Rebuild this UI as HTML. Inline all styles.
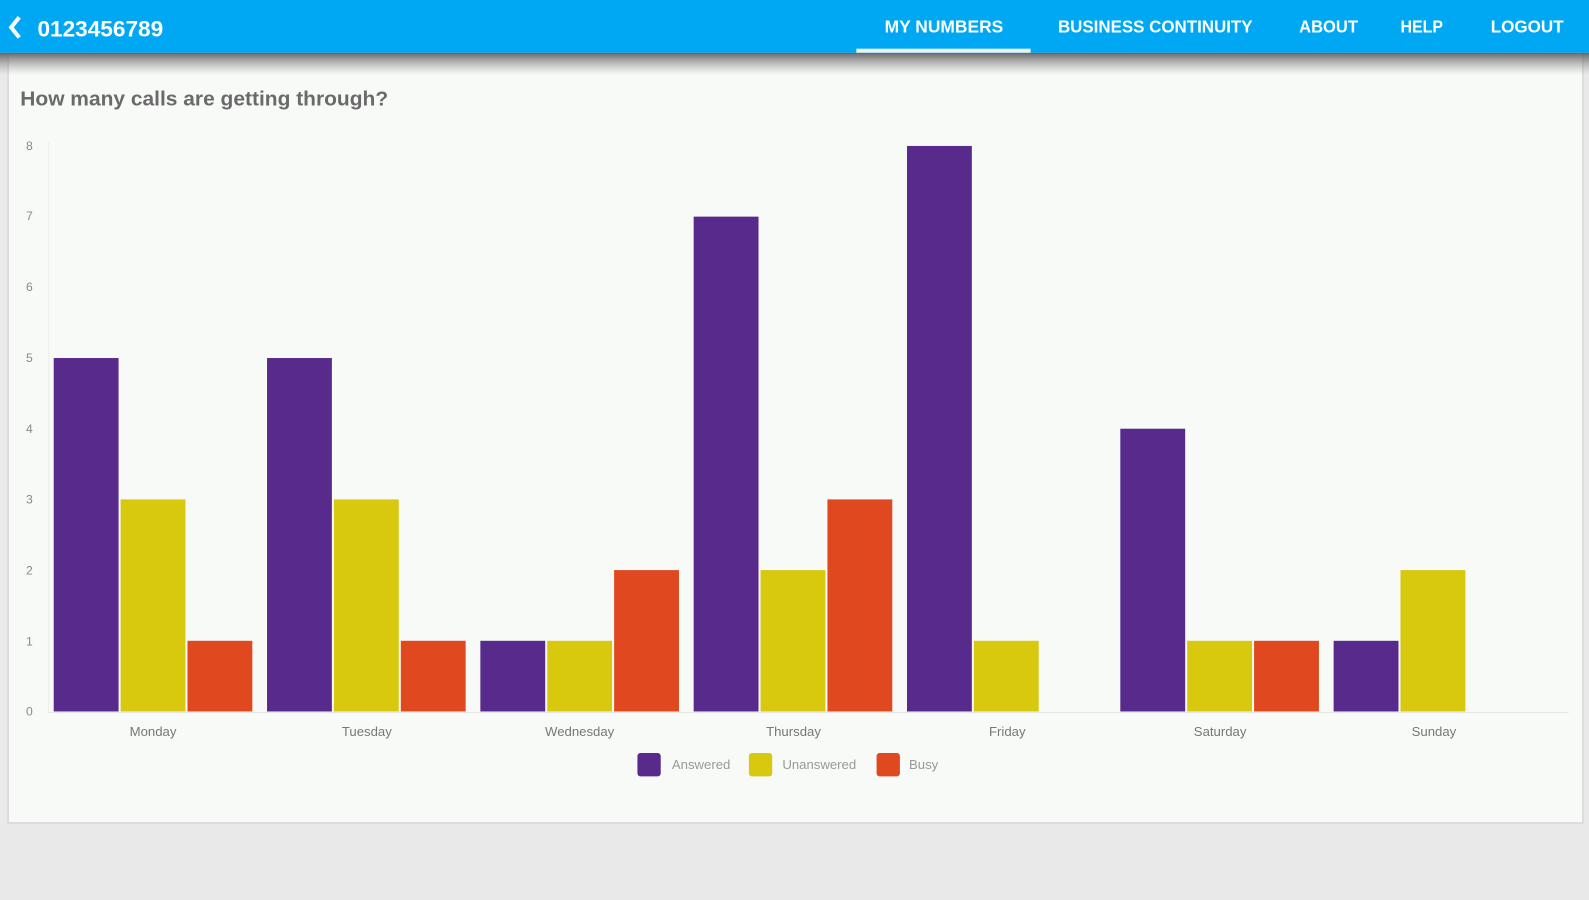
<!DOCTYPE html>
<html><head><meta charset="utf-8"><style>
html,body{margin:0;padding:0;width:1589px;height:900px;overflow:hidden;background:#e8e9e8}
svg{display:block}
text{font-family:"Liberation Sans",sans-serif}
</style></head><body>
<svg width="1589" height="900" viewBox="0 0 1568 888" preserveAspectRatio="none">
<defs>
<linearGradient id="sh" x1="0" y1="0" x2="0" y2="1">
<stop offset="0" stop-color="#555" stop-opacity="0.9"/>
<stop offset="1" stop-color="#999" stop-opacity="0"/>
</linearGradient>
</defs>
<rect x="0" y="0" width="1568" height="888" fill="#e8e9e8"/>
<rect x="8" y="52" width="1554" height="760" fill="#f8faf8" stroke="#d6d8d6" stroke-width="1.5"/>
<rect x="0" y="52" width="1568" height="22" fill="url(#sh)"/>
<rect x="0" y="0" width="1568" height="52" fill="#00a8f3"/>
<path d="M19 17 L11 27 L19 37" stroke="#fff" stroke-width="4" fill="none"/>
<text x="37" y="36" fill="#fff" font-size="22" font-weight="bold" textLength="124" lengthAdjust="spacingAndGlyphs">0123456789</text>
<g fill="#fff" font-size="17" font-weight="bold">
<text x="873" y="32" textLength="117" lengthAdjust="spacingAndGlyphs">MY NUMBERS</text>
<text x="1044" y="32" textLength="192" lengthAdjust="spacingAndGlyphs">BUSINESS CONTINUITY</text>
<text x="1282" y="32" textLength="58" lengthAdjust="spacingAndGlyphs">ABOUT</text>
<text x="1382" y="32" textLength="42" lengthAdjust="spacingAndGlyphs">HELP</text>
<text x="1471" y="32" textLength="72" lengthAdjust="spacingAndGlyphs">LOGOUT</text>
</g>
<rect x="845" y="48" width="172" height="4" fill="#e6f4fb"/>
<text x="20" y="104" fill="#6a6a6a" font-size="20" font-weight="bold" textLength="363" lengthAdjust="spacingAndGlyphs">How many calls are getting through?</text>
<g fill="#888" font-size="12" text-anchor="middle">
<text x="29" y="706">0</text><text x="29" y="637">1</text><text x="29" y="567">2</text><text x="29" y="497">3</text><text x="29" y="427">4</text><text x="29" y="357">5</text><text x="29" y="287">6</text><text x="29" y="217">7</text><text x="29" y="148">8</text>
</g>
<line x1="48" y1="140" x2="48" y2="703" stroke="#eceeec"/>
<line x1="48" y1="703" x2="1548" y2="703" stroke="#e4e6e4"/>
<g fill="#777" font-size="13" text-anchor="middle">
<text x="151" y="726">Monday</text><text x="362" y="726">Tuesday</text><text x="572" y="726">Wednesday</text><text x="783" y="726">Thursday</text><text x="994" y="726">Friday</text><text x="1204" y="726">Saturday</text><text x="1415" y="726">Sunday</text>
</g>
<rect x="629" y="743" width="23" height="23" rx="3" fill="#582a8c"/>
<text x="663" y="759" fill="#999" font-size="13">Answered</text>
<rect x="739" y="743" width="23" height="23" rx="3" fill="#d8c80e"/>
<text x="772" y="759" fill="#999" font-size="13">Unanswered</text>
<rect x="865" y="743" width="23" height="23" rx="3" fill="#e0481f"/>
<text x="897" y="759" fill="#999" font-size="13">Busy</text>
<g>
<rect x="53" y="353.25" width="64" height="348.75" fill="#582a8c"/>
<rect x="119" y="492.75" width="64" height="209.25" fill="#d8c80e"/>
<rect x="185" y="632.25" width="64" height="69.75" fill="#e0481f"/>

<rect x="263.5" y="353.25" width="64" height="348.75" fill="#582a8c"/>
<rect x="329.5" y="492.75" width="64" height="209.25" fill="#d8c80e"/>
<rect x="395.5" y="632.25" width="64" height="69.75" fill="#e0481f"/>

<rect x="474" y="632.25" width="64" height="69.75" fill="#582a8c"/>
<rect x="540" y="632.25" width="64" height="69.75" fill="#d8c80e"/>
<rect x="606" y="562.5" width="64" height="139.5" fill="#e0481f"/>

<rect x="684.5" y="213.75" width="64" height="488.25" fill="#582a8c"/>
<rect x="750.5" y="562.5" width="64" height="139.5" fill="#d8c80e"/>
<rect x="816.5" y="492.75" width="64" height="209.25" fill="#e0481f"/>

<rect x="895" y="144" width="64" height="558" fill="#582a8c"/>
<rect x="961" y="632.25" width="64" height="69.75" fill="#d8c80e"/>

<rect x="1105.5" y="423" width="64" height="279" fill="#582a8c"/>
<rect x="1171.5" y="632.25" width="64" height="69.75" fill="#d8c80e"/>
<rect x="1237.5" y="632.25" width="64" height="69.75" fill="#e0481f"/>

<rect x="1316" y="632.25" width="64" height="69.75" fill="#582a8c"/>
<rect x="1382" y="562.5" width="64" height="139.5" fill="#d8c80e"/>
</g>
</svg>
</body></html>
